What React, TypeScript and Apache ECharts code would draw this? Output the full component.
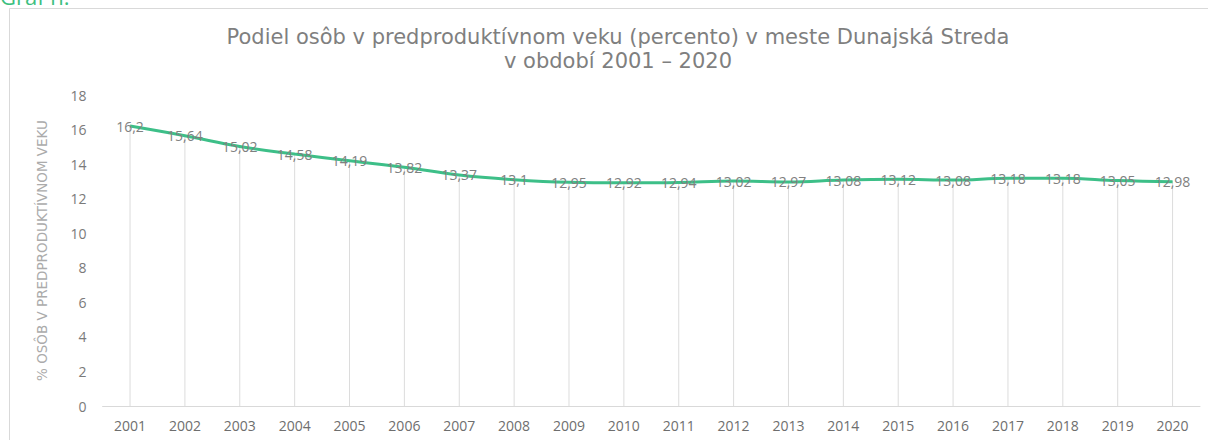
import React, { useEffect, useRef } from "react";
import * as echarts from "echarts";

const years = ["2001","2002","2003","2004","2005","2006","2007","2008","2009","2010","2011","2012","2013","2014","2015","2016","2017","2018","2019","2020"];
const values = [16.2, 15.64, 15.02, 14.58, 14.19, 13.82, 13.37, 13.1, 12.95, 12.92, 12.94, 13.02, 12.97, 13.08, 13.12, 13.08, 13.18, 13.18, 13.05, 12.98];
const titleLines = ["Podiel osôb v predproduktívnom veku (percento) v meste Dunajská Streda", "v období 2001 – 2020"];
const yAxisName = "% OSÔB V PREDPRODUKTÍVNOM VEKU";
const captionText = "Graf n.";

const FONT = "'Open Sans', 'Noto Sans', sans-serif";
const WIDE = "'DejaVu Sans', 'Open Sans', sans-serif";

export default function App() {
  const ref = useRef<HTMLDivElement>(null);
  useEffect(() => {
    if (!ref.current) return;
    const chart = echarts.init(ref.current, null, { renderer: "svg" });
    chart.setOption({
      animation: false,
      backgroundColor: "#ffffff",
      textStyle: { fontFamily: FONT },
      title: {
        text: titleLines.join("\n"),
        left: 613,
        top: 20,
        textAlign: "center",
        textStyle: { fontFamily: WIDE, fontSize: 21, fontWeight: "normal", color: "#7f7f7f", lineHeight: 24 },
      },
      graphic: [
        { type: "rect", silent: true, shape: { x: 9.5, y: 8.5, width: 1220, height: 460 }, style: { fill: "none", stroke: "#d9d9d9", lineWidth: 1 } },
        { type: "text", silent: true, x: 0, y: 7, style: { text: captionText, fontFamily: FONT, fontSize: 22, fill: "#3cc07f", textVerticalAlign: "bottom" } },
      ],
      grid: { left: 102.6, right: 8, top: 95, bottom: 34, containLabel: false },
      xAxis: {
        type: "category",
        data: years,
        boundaryGap: true,
        axisLine: { lineStyle: { color: "#d9d9d9", width: 1 } },
        axisTick: { show: false },
        axisLabel: { color: "#6e6e6e", fontSize: 14, fontFamily: FONT, margin: 12 },
        splitLine: { show: false },
      },
      yAxis: {
        type: "value",
        min: 0,
        max: 18,
        interval: 2,
        name: yAxisName,
        nameLocation: "middle",
        nameGap: 54,
        nameTextStyle: { color: "#ababab", fontSize: 13.5, fontFamily: WIDE },
        axisLine: { show: false },
        axisTick: { show: false },
        axisLabel: { color: "#7a7a7a", fontSize: 14, fontFamily: FONT, margin: 16 },
        splitLine: { show: false },
      },
      series: [
        {
          type: "bar",
          data: values,
          barWidth: 1,
          silent: true,
          itemStyle: { color: "#dcdcdc" },
          z: 1,
        },
        {
          type: "line",
          data: values,
          smooth: 0.4,
          symbol: "circle",
          symbolSize: 0.5,
          showSymbol: true,
          itemStyle: { color: "#3dbf88" },
          lineStyle: { color: "#3dbf88", width: 3 },
          z: 2,
          label: {
            show: true,
            position: "inside",
            color: "#808080",
            fontSize: 14,
            fontFamily: FONT,
            formatter: (p: any) => String(p.value).replace(".", ","),
          },
        },
      ],
    });
    return () => chart.dispose();
  }, []);
  return <div ref={ref} style={{ position: "fixed", left: 0, top: 0, width: 1208, height: 440 }} />;
}
